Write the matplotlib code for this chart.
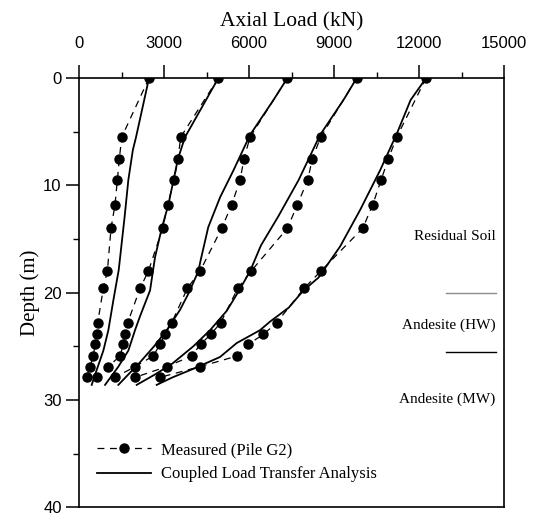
import matplotlib
matplotlib.use('Agg')
import matplotlib.pyplot as plt
from matplotlib.ticker import MultipleLocator

# measured load at each gauge depth (Pile G2), five load stages
depth_meas = [0, 5.5, 7.5, 9.5, 11.8, 14.0, 18.0, 19.6, 22.8, 23.9, 24.8, 25.9, 26.9, 27.9]
meas_1 = [2470, 1507, 1423, 1352, 1270, 1129, 1000, 858, 659, 624, 565, 506, 388, 272]
meas_2 = [4918, 3588, 3494, 3353, 3130, 2953, 2447, 2153, 1718, 1624, 1565, 1447, 1035, 640]
meas_3 = [7353, 6035, 5824, 5682, 5388, 5035, 4270, 3823, 3271, 3035, 2859, 2624, 1976, 1271]
meas_4 = [9800, 8529, 8235, 8070, 7706, 7353, 6070, 5600, 5000, 4647, 4294, 3976, 3094, 1976]
meas_5 = [12247, 11212, 10918, 10659, 10365, 10012, 8530, 7941, 6976, 6506, 5976, 5588, 4270, 2859]

# coupled load transfer analysis
calc_depth_1 = [0, 5.5, 6.7, 9.5, 12.9, 17.9, 20.7, 23.5, 25.4, 27.2, 28.6]
calc_1 = [2470, 2012, 1900, 1740, 1610, 1400, 1212, 1035, 859, 624, 447]
calc_depth_2 = [0, 5.5, 7.5, 11.8, 14.0, 16.7, 19.8, 22.2, 23.5, 25.4, 26.9, 28.6]
calc_2 = [4918, 3741, 3494, 3153, 2918, 2682, 2506, 2153, 1976, 1741, 1388, 918]
calc_depth_3 = [0, 2.05, 5.3, 8.6, 11.1, 13.9, 17.0, 18.0, 20.1, 21.6, 23.5, 25.0, 26.5, 27.6, 28.6]
calc_3 = [7353, 6860, 6035, 5450, 4980, 4560, 4290, 4212, 3859, 3565, 3094, 2650, 2150, 1750, 1388]
calc_depth_4 = [0, 2.05, 5.3, 9.5, 12.9, 15.6, 18.0, 19.8, 21.7, 23.5, 25.0, 26.6, 27.6, 28.6]
calc_4 = [9800, 9330, 8506, 7750, 7030, 6420, 6035, 5650, 5212, 4624, 4035, 3300, 2700, 2035]
calc_depth_5 = [0, 2.05, 5.2, 8.6, 12.3, 15.7, 18.6, 19.8, 21.4, 22.7, 23.5, 24.7, 26.0, 27.1, 27.9, 28.6]
calc_5 = [12247, 11700, 11212, 10624, 9918, 9212, 8450, 7918, 7400, 6741, 6388, 5565, 4976, 4035, 3300, 2741]

measured = [meas_1, meas_2, meas_3, meas_4, meas_5]
calculated = [(calc_depth_1, calc_1), (calc_depth_2, calc_2), (calc_depth_3, calc_3),
              (calc_depth_4, calc_4), (calc_depth_5, calc_5)]

# soil profile
layer_names = ['Residual Soil', 'Andesite (HW)', 'Andesite (MW)']
layer_label_depth = [14.8, 23.0, 29.9]
layer_boundary = [20.0, 25.5]
boundary_color = ['#8c8c8c', 'black']

serif = 'Liberation Serif'
sans = 'Liberation Sans'

fig = plt.figure(figsize=(5.34, 5.17), dpi=100)
ax = fig.add_axes([0.148, 0.019, 0.796, 0.830])

for i, m in enumerate(measured):
    ax.plot(m, depth_meas, color='black', lw=0.9, dashes=(5.5, 4.5), marker='o', ms=6.5,
            label='Measured (Pile G2)' if i == 0 else None)
for i, (d, c) in enumerate(calculated):
    ax.plot(c, d, color='black', lw=1.3,
            label='Coupled Load Transfer Analysis' if i == 0 else None)

for name, d in zip(layer_names, layer_label_depth):
    ax.text(14700, d, name, ha='right', va='center', fontsize=11, family=serif)
for d, c in zip(layer_boundary, boundary_color):
    ax.plot([12950, 14700], [d, d], color=c, lw=1.0)

ax.set_xlim(0, 15000)
ax.set_ylim(40, 0)
ax.xaxis.tick_top()
ax.xaxis.set_label_position('top')
ax.xaxis.set_major_locator(MultipleLocator(3000))
ax.xaxis.set_minor_locator(MultipleLocator(1500))
ax.yaxis.set_major_locator(MultipleLocator(10))
ax.yaxis.set_minor_locator(MultipleLocator(5))
ax.tick_params(which='major', length=9.5, width=1.1, direction='out')
ax.tick_params(which='minor', length=4.5, width=1.0, direction='out')
ax.tick_params(axis='x', which='major', pad=10)
ax.tick_params(axis='y', which='major', pad=3)
for lab in ax.get_xticklabels() + ax.get_yticklabels():
    lab.set_family(sans)
    lab.set_fontsize(12)
for s in ax.spines.values():
    s.set_linewidth(1.2)

ax.set_xlabel('Axial Load (kN)', family=serif, fontsize=15.5, labelpad=7)
ax.set_ylabel('Depth (m)', family=serif, fontsize=15, labelpad=2)

leg = ax.legend(loc='upper left', bbox_to_anchor=(0.016, 0.179), frameon=False,
                prop={'family': serif, 'size': 12}, handlelength=3.2,
                handletextpad=0.6, labelspacing=0.5, borderaxespad=0.3)

fig.savefig('out.png', dpi=100)
